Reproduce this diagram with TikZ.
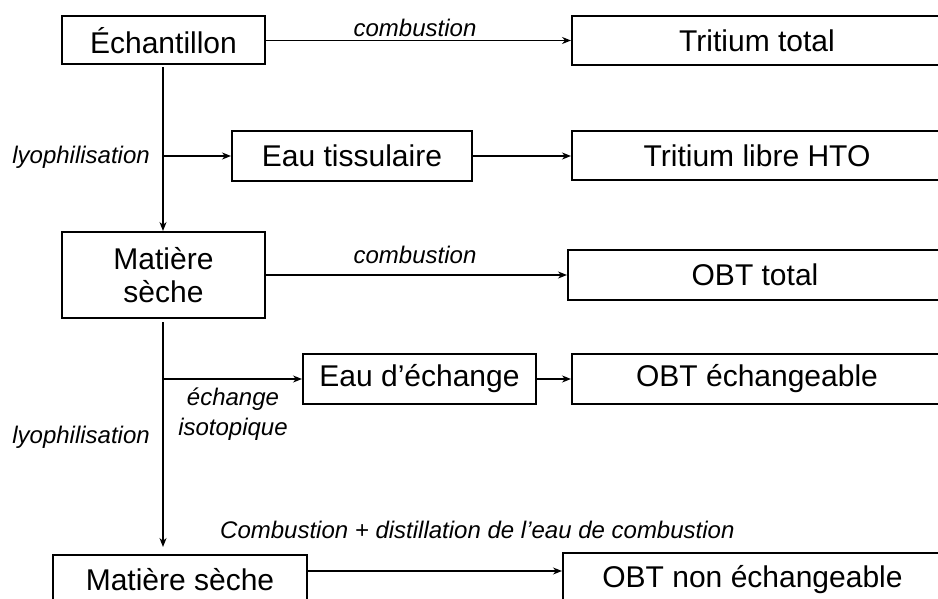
\documentclass[tikz,border=0pt]{standalone}
\usepackage{fontspec}
\setmainfont{Liberation Sans}
\usetikzlibrary{arrows.meta}
\tikzset{
  box/.style={draw, line width=2pt, inner sep=0pt, font=\fontsize{30}{33}\selectfont, align=center},
  lbl/.style={inner sep=0pt, font=\fontsize{24}{30}\selectfont\itshape, align=center},
  arr/.style={line width=1.6pt, -{Stealth[length=9pt,width=7pt,inset=3pt]}}
}
\begin{document}
\begin{tikzpicture}[x=1pt,y=-1pt]
\useasboundingbox (0,0) rectangle (938,599);
\fill[white] (0,0) rectangle (938,599);
\clip (0,0) rectangle (938,599);
% boxes
\node[box, minimum width=203pt, minimum height=48pt] (ech) at (163.5,40.5) {Échantillon};
\node[box, minimum width=370pt, minimum height=49pt] (tt) at (757,40.5) {Tritium total};
\node[box, minimum width=240pt, minimum height=50pt] (et) at (352,156) {Eau tissulaire};
\node[box, minimum width=370pt, minimum height=49pt] (tl) at (757,156) {Tritium libre HTO};
\node[box, minimum width=203pt, minimum height=86pt] (ms) at (163.5,275) {Matière\\sèche};
\node[box, minimum width=374pt, minimum height=50pt] (ot) at (755,275) {OBT total};
\node[box, minimum width=233pt, minimum height=50pt] (ed) at (419.5,379) {Eau d’échange};
\node[box, minimum width=370pt, minimum height=50pt] (oe) at (757,379) {OBT échangeable};
\node[box, minimum width=254pt, minimum height=50pt] (ms2) at (180,580) {Matière sèche};
\node[box, minimum width=379pt, minimum height=54pt] (on) at (752.5,580) {OBT non échangeable};
% labels
\node[lbl] (c1) at (415,28) {combustion};
\node[lbl] (c2) at (415,255) {combustion};
\node[lbl, anchor=east] (ly1) at (150,157) {lyophilisation};
\node[lbl, anchor=east] (ly2) at (150,437) {lyophilisation};
\node[lbl] (ei) at (233,414) {échange\\isotopique};
\node[lbl, anchor=west] (cd) at (220,530) {Combustion + distillation de l’eau de combustion};
% coordinates
\coordinate (b1) at (163,156);
\coordinate (b2) at (163,379);
\coordinate (bend) at (163,547);
\coordinate (bl) at (0,571);
% connectors
\draw[arr] (ech) -- (tt);
\draw[arr, shorten <=2pt] (ech.south -| b1) -- (ms.north -| b1);
\draw[arr] (b1) -- (et);
\draw[arr] (et) -- (tl);
\draw[arr] (ms) -- (ot);
\draw[arr, shorten <=3pt] (ms.south -| b2) -- (bend);
\draw[arr] (b2) -- (ed);
\draw[arr] (ed) -- (oe);
\draw[arr] (ms2.east |- bl) -- (on.west |- bl);
\end{tikzpicture}
\end{document}
